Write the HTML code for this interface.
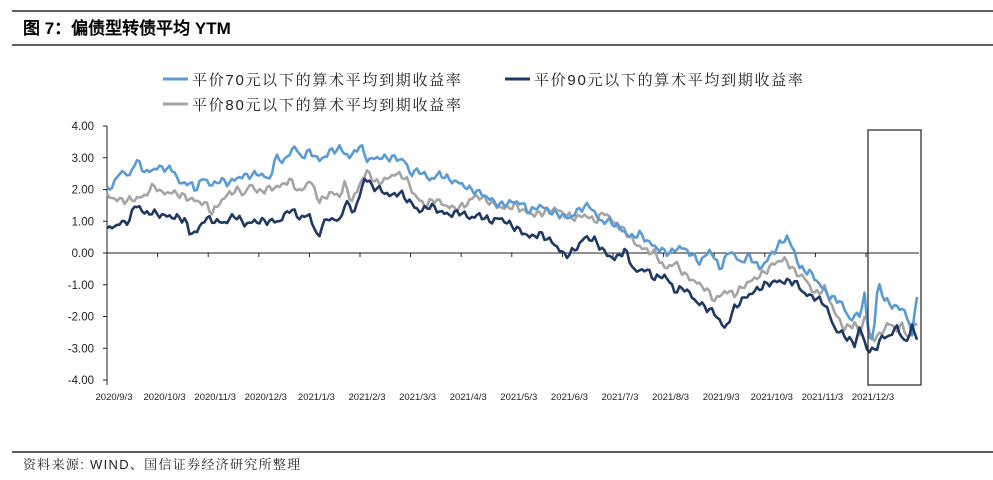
<!DOCTYPE html>
<html><head><meta charset="utf-8"><style>
body{margin:0;background:#fff;width:993px;height:475px;overflow:hidden;font-family:"Liberation Sans","Noto Sans CJK SC",sans-serif}
</style></head><body>
<svg id="s" width="993" height="475" xmlns="http://www.w3.org/2000/svg" font-family="Liberation Sans, Noto Sans CJK SC, sans-serif">
<line x1="12" y1="11" x2="993" y2="11" stroke="#000" stroke-width="1.3"/>
<line x1="12" y1="45" x2="993" y2="45" stroke="#000" stroke-width="1.3"/>
<text x="23" y="34" font-size="17" font-weight="bold" font-family="Liberation Sans, WenQuanYi Zen Hei, sans-serif">图 7：偏债型转债平均 YTM</text>
<line x1="163" y1="79" x2="188" y2="79" stroke="#5B9BD5" stroke-width="3"/>
<text x="192" y="85" font-size="15" fill="#222" letter-spacing="1.7" font-family="Liberation Sans, Noto Serif CJK SC, sans-serif">平价70元以下的算术平均到期收益率</text>
<line x1="505" y1="79" x2="530" y2="79" stroke="#1F3864" stroke-width="3"/>
<text x="534" y="85" font-size="15" fill="#222" letter-spacing="1.7" font-family="Liberation Sans, Noto Serif CJK SC, sans-serif">平价90元以下的算术平均到期收益率</text>
<line x1="163" y1="104" x2="188" y2="104" stroke="#A5A5A5" stroke-width="3"/>
<text x="192" y="110" font-size="15" fill="#222" letter-spacing="1.7" font-family="Liberation Sans, Noto Serif CJK SC, sans-serif">平价80元以下的算术平均到期收益率</text>
<g id="ax" font-size="11.5" fill="#222"></g>
<g id="ser"></g>
<rect x="868" y="130" width="53" height="255" fill="none" stroke="#222" stroke-width="1.2"/>
<line x1="12" y1="452" x2="993" y2="452" stroke="#000" stroke-width="1.3"/>
<text x="23" y="469" font-size="13" fill="#222" letter-spacing="1.3" font-family="Liberation Sans, Noto Serif CJK SC, sans-serif">资料来源: WIND、国信证券经济研究所整理</text>
</svg>
<script>
var NS="http://www.w3.org/2000/svg";
function Y(v){return 253-v*31.75;}
function el(t,a,p,txt){var e=document.createElementNS(NS,t);for(var k in a)e.setAttribute(k,a[k]);if(txt)e.textContent=txt;p.appendChild(e);return e;}
var ax=document.getElementById('ax');
el('line',{x1:107,y1:126,x2:107,y2:385,stroke:'#222','stroke-width':1},ax);
for(var v=4;v>=-4;v--){var y=Y(v);el('line',{x1:103,y1:y,x2:107,y2:y,stroke:'#222'},ax);
el('text',{x:94,y:y+4,'text-anchor':'end'},ax,v.toFixed(2));}
el('line',{x1:107,y1:253,x2:919,y2:253,stroke:'#222','stroke-width':1},ax);
var labs=["2020/9/3","2020/10/3","2020/11/3","2020/12/3","2021/1/3","2021/2/3","2021/3/3","2021/4/3","2021/5/3","2021/6/3","2021/7/3","2021/8/3","2021/9/3","2021/10/3","2021/11/3","2021/12/3"];
for(var i=0;i<16;i++){var x=107+i*50.6;el('line',{x1:x,y1:253,x2:x,y2:257,stroke:'#222'},ax);
el('text',{x:x+7,y:400,'text-anchor':'middle','font-size':9.5},ax,labs[i]);}
function P(a){var r=[];for(var i=0;i<a.length;i+=2)r.push([a[i],a[i+1]]);return r;}
var blue=P([107,2.0,115,2.2,120,2.6,130,2.4,133,2.8,140,2.85,145,2.5,150,2.6,160,2.7,175,2.6,178,2.2,190,2.2,195,2.0,205,2.4,210,2.1,220,2.3,228,2.2,240,2.4,260,2.5,270,2.3,275,3.0,285,2.9,295,3.4,300,3.0,310,3.2,320,2.9,330,3.2,340,3.3,350,3.0,360,3.4,368,2.9,375,3.0,385,3.0,395,3.0,405,2.9,410,2.5,420,2.6,430,2.3,440,2.5,450,2.3,460,2.2,470,2.0,480,1.9,490,1.7,500,1.5,510,1.6,520,1.6,530,1.3,540,1.5,550,1.3,560,1.2,570,1.1,580,1.4,590,1.5,600,1.0,610,1.0,620,0.8,630,0.5,640,0.6,650,0.3,660,0.1,670,0.0,680,0.2,690,0.0,700,-0.3,710,0.1,720,-0.5,730,0.1,740,-0.3,750,-0.1,760,-0.5,770,-0.1,780,0.3,787,0.5,795,0.0,800,-0.5,810,-0.6,820,-1.0,830,-1.4,840,-1.5,850,-2.1,860,-1.9,865,-1.3,868,-2.5,873,-2.8,878,-0.9,885,-1.5,895,-1.7,905,-1.8,912,-2.6,916,-1.3,919,-1.7]);
var gray=P([107,1.8,115,1.7,125,1.65,135,1.7,145,1.8,150,2.0,155,2.15,160,1.9,175,1.9,190,1.7,200,1.6,208,1.5,212,1.25,220,1.6,230,1.9,240,2.0,245,1.8,250,2.2,258,1.9,265,2.0,280,2.1,290,2.3,300,1.9,310,2.3,320,1.6,330,1.9,340,1.8,345,2.2,352,1.6,360,2.2,368,2.6,375,2.2,385,2.3,395,2.5,405,2.4,415,1.8,425,1.5,435,1.7,445,1.5,455,1.4,465,1.5,475,1.8,485,1.7,495,1.5,505,1.4,515,1.5,525,1.3,535,1.2,545,1.3,555,1.4,565,1.2,575,1.1,585,1.2,595,1.0,605,1.3,615,0.9,625,0.7,635,0.3,645,0.1,655,0.0,665,-0.5,675,-0.3,685,-0.7,695,-0.9,705,-1.1,715,-1.5,725,-1.2,735,-1.3,745,-1.0,755,-0.8,765,-0.6,775,-0.3,785,-0.2,795,-0.6,805,-0.8,815,-1.3,825,-1.1,835,-1.9,845,-2.4,855,-2.2,860,-2.6,866,-1.8,870,-2.7,880,-2.6,888,-2.2,896,-2.4,902,-2.3,910,-2.7,916,-2.0,919,-2.9]);
var navy=P([107,0.8,115,0.8,120,1.0,125,0.9,130,1.1,135,1.5,140,1.45,145,1.2,150,1.3,160,1.2,180,1.1,185,1.05,190,0.6,198,0.7,205,1.1,215,1.0,225,0.95,235,1.2,245,0.9,255,1.0,265,1.0,280,1.0,290,1.4,300,1.1,310,1.2,318,0.4,322,0.9,330,1.1,340,1.0,345,1.6,355,1.3,365,2.4,372,2.1,380,2.0,390,1.8,400,1.9,410,1.6,420,1.3,430,1.5,440,1.3,450,1.2,460,1.3,470,1.1,480,1.2,490,1.0,500,1.1,510,0.9,520,0.7,530,0.5,540,0.6,550,0.4,560,0.1,565,-0.1,575,0.1,585,0.5,595,0.4,605,0.0,615,-0.2,625,0.1,635,-0.6,645,-0.5,655,-0.8,665,-0.7,675,-1.2,685,-1.1,695,-1.5,705,-1.7,715,-1.9,725,-2.4,735,-1.7,745,-1.4,755,-1.2,765,-1.0,775,-0.9,785,-0.9,795,-0.9,805,-1.3,815,-1.4,825,-1.6,835,-2.4,845,-2.6,855,-2.9,860,-2.3,866,-3.0,875,-3.1,880,-2.7,890,-2.6,898,-2.3,905,-2.9,912,-2.3,919,-2.9]);
function interp(k,x){for(var i=1;i<k.length;i++){if(x<=k[i][0]){var a=k[i-1],b=k[i],t=(x-a[0])/(b[0]-a[0]);return a[1]+t*(b[1]-a[1]);}}return k[k.length-1][1];}
var g=document.getElementById('ser');
function draw(k,c,seed){var pts=[];for(var x=107;x<=919;x+=2.5){var n=0.07*Math.sin(x*1.7+seed)+0.05*Math.sin(x*3.1+seed*2);pts.push(x.toFixed(1)+","+Y(interp(k,x)+n).toFixed(1));}
el('polyline',{points:pts.join(' '),fill:'none',stroke:c,'stroke-width':2.6,'stroke-linejoin':'round'},g);}
draw(gray,'#A5A5A5',1);draw(blue,'#5B9BD5',2);draw(navy,'#1F3864',3);
</script>
</body></html>
